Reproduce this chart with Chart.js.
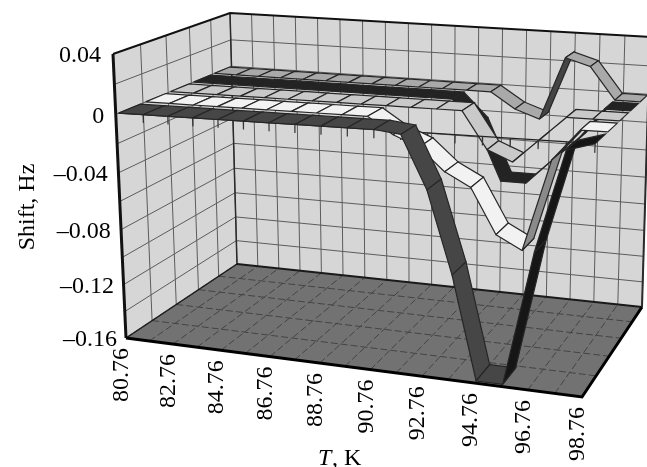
<!DOCTYPE html>
<html>
<head>
<meta charset="utf-8">
<style>
  html, body { margin: 0; padding: 0; background: #fff; }
  canvas { display: block; }
</style>
</head>
<body>
<canvas id="shiftChart" width="647" height="467"></canvas>
<script src="https://cdn.jsdelivr.net/npm/chart.js@4/dist/chart.umd.js"></script>
<script>
var temps = [80.76, 81.76, 82.76, 83.76, 84.76, 85.76, 86.76, 87.76, 88.76, 89.76,
             90.76, 91.76, 92.76, 93.76, 94.76, 95.76, 96.76, 97.76, 98.76];
var tempLabels = ["80.76", "82.76", "84.76", "86.76", "88.76", "90.76", "92.76", "94.76", "96.76", "98.76"];
var shiftTicks = [0.04, 0, -0.04, -0.08, -0.12, -0.16];
var shiftLabels = ["0.04", "0", "\u20130.04", "\u20130.08", "\u20130.12", "\u20130.16"];

// front to back
var ribbonA = [0, 0, 0, 0, 0, 0, 0, 0, 0, 0, 0, -0.002, -0.036, -0.09, -0.16, -0.16, -0.07, -0.005, 0];
var ribbonB = [0, 0, 0, 0, 0, 0, 0, 0, 0, 0, -0.011, -0.018, -0.033, -0.042, -0.072, -0.081, -0.02, 0, 0];
var ribbonC = [0, 0, 0, 0, 0, 0, 0, 0, 0, 0, 0, 0, 0, -0.025, -0.032, -0.016, 0, 0, 0];
var ribbonD = [0, 0, 0, 0, 0, 0, 0, 0, 0, 0, 0, 0, -0.017, -0.055, -0.055, -0.038, -0.022, 0, 0];
var ribbonE = [0, 0, 0, 0, 0, 0, 0, 0, 0, 0, 0, 0, 0, -0.011, -0.017, 0.027, 0.022, 0, 0];
var ribbons = [ribbonA, ribbonB, ribbonC, ribbonD, ribbonE];

var flatColors = ["#464646", "#f2f2f2", "#c9c9c9", "#232323", "#a9a9a9"];
var risingColors = ["#161616", "#8a8a8a", "#8a8a8a", "#111111", "#444444"];

// corners of the box on the page: [T end, depth end, shift end]
var box = {
  p000: [126, 338], p100: [582, 397], p010: [237, 264], p110: [642, 307],
  p001: [113, 54], p101: [597, 77], p011: [230, 13], p111: [650, 37]
};

function mix(a, b, f) { return a + (b - a) * f; }

function project(t, depth, shift) {
  var u = (t - 80.76) / 18, v = (shift + 0.16) / 0.2, w = depth, out = {};
  // rough perspective: cells get bigger toward the viewer
  u = u - 0.08 * u * (1 - u);
  v = v - 0.077 * v * (1 - v);
  w = w + 0.22 * w * (1 - w);
  [0, 1].forEach(function (i) {
    var front = mix(mix(box.p000[i], box.p100[i], u), mix(box.p001[i], box.p101[i], u), v);
    var back = mix(mix(box.p010[i], box.p110[i], u), mix(box.p011[i], box.p111[i], u), v);
    out[i == 0 ? "x" : "y"] = mix(front, back, w);
  });
  return out;
}

var layers = [];

function addLine(points, color, width, dash) {
  layers.push({
    data: points, showLine: true, pointRadius: 0, borderColor: color,
    borderWidth: width, borderDash: dash || [], fill: false
  });
}

function addShape(points, color, edge, width) {
  layers.push({
    data: points, showLine: true, pointRadius: 0, borderColor: edge, borderWidth: width,
    backgroundColor: color, fill: "shape"
  });
}

var T0 = temps[0], T1 = temps[temps.length - 1];

// walls and floor
addShape([project(T0, 0, -0.16), project(T0, 1, -0.16), project(T0, 1, 0.04), project(T0, 0, 0.04), project(T0, 0, -0.16)], "#d6d6d6", "#d6d6d6", 0);
addShape([project(T0, 1, -0.16), project(T1, 1, -0.16), project(T1, 1, 0.04), project(T0, 1, 0.04), project(T0, 1, -0.16)], "#d6d6d6", "#d6d6d6", 0);
addShape([project(T0, 0, -0.16), project(T1, 0, -0.16), project(T1, 1, -0.16), project(T0, 1, -0.16), project(T0, 0, -0.16)], "#727272", "#727272", 0);

// grid
temps.forEach(function (t) {
  addLine([project(t, 1, -0.16), project(t, 1, 0.04)], "#5c5c5c", 1);
  addLine([project(t, 0, -0.16), project(t, 1, -0.16)], "#444444", 1, [7, 3]);
});
[0.2, 0.4, 0.6, 0.8].forEach(function (d) {
  addLine([project(T0, d, -0.16), project(T0, d, 0.04)], "#5c5c5c", 1);
  addLine([project(T0, d, -0.16), project(T1, d, -0.16)], "#444444", 1, [7, 3]);
});
for (var g = 1; g < 10; g++) {
  var s = -0.16 + g * 0.02;
  addLine([project(T0, 0, s), project(T0, 1, s)], "#5c5c5c", 1);
  addLine([project(T0, 1, s), project(T1, 1, s)], "#5c5c5c", 1);
}

// box outline
addLine([project(T0, 1, -0.16), project(T0, 1, 0.04)], "#2a2a2a", 1.5);
addLine([project(T0, 1, -0.16), project(T1, 1, -0.16)], "#1a1a1a", 2);
addLine([project(T0, 0, -0.16), project(T0, 1, -0.16)], "#1a1a1a", 1.5);
addLine([project(T1, 1, -0.16), project(T1, 1, 0.04)], "#2a2a2a", 2);
addLine([project(T0, 0, 0.04), project(T0, 1, 0.04), project(T1, 1, 0.04)], "#111", 2);
addLine([project(T0, 0, -0.16), project(T0, 0, 0.04)], "#111", 3);
addLine([project(T0, 0, -0.16), project(T1, 0, -0.16), project(T1, 1, -0.16)], "#000", 3);

function addRibbon(r) {
  var values = ribbons[r];
  var near = (r + 0.5) / 5 - 0.08, far = (r + 0.5) / 5 + 0.08;
  temps.forEach(function (t, i) {
    if (i == temps.length - 1) return;
    var t2 = temps[i + 1], a = values[i], b = values[i + 1];
    var color = b - a > 0.004 ? risingColors[r] : flatColors[r];
    addShape([project(t, near, a), project(t2, near, b), project(t2, far, b), project(t, far, a), project(t, near, a)],
      color, "#262626", 1.2);
  });
}

addRibbon(4);
addRibbon(3);
addRibbon(2);

// zero axis with its ticks
addLine([project(T0, 0.02, 0), project(T1, 0.02, 0)], "#222", 1.2);
temps.slice(1).forEach(function (t) {
  addLine([project(t, 0.02, 0), project(t, 0.02, -0.0055)], "#333", 1.2);
});

addRibbon(1);
addRibbon(0);

var axisText = {
  id: "axisText",
  afterDraw: function (chart) {
    var ctx = chart.ctx;
    ctx.save();
    ctx.fillStyle = "#000";
    ctx.font = "24px 'Liberation Serif'";
    ctx.textBaseline = "middle";

    ctx.textAlign = "right";
    shiftTicks.forEach(function (s, i) {
      var p = project(T0, 0, s);
      ctx.fillText(shiftLabels[i], p.x - 12 + i * 0.6, p.y + 2);
    });

    tempLabels.forEach(function (label) {
      var p = project(parseFloat(label), 0, -0.16);
      ctx.save();
      ctx.translate(p.x - 4, p.y + 10);
      ctx.rotate(-Math.PI / 2);
      ctx.textAlign = "right";
      ctx.fillText(label, 0, 0);
      ctx.restore();
    });

    ctx.save();
    ctx.translate(28, 207);
    ctx.rotate(-Math.PI / 2);
    ctx.textAlign = "center";
    ctx.fillText("Shift, Hz", 0, 0);
    ctx.restore();

    ctx.textAlign = "left";
    ctx.textBaseline = "alphabetic";
    ctx.font = "italic 24px 'Liberation Serif'";
    ctx.fillText("T", 318, 465);
    ctx.font = "24px 'Liberation Serif'";
    ctx.fillText(", K", 332, 465);
    ctx.restore();
  }
};

var shiftChart = new Chart(document.getElementById("shiftChart"), {
  type: "scatter",
  data: { datasets: layers.reverse() },
  options: {
    responsive: false,
    animation: false,
    layout: { padding: 0 },
    scales: {
      x: { type: "linear", min: 0, max: 647, display: false },
      y: { type: "linear", min: 0, max: 467, reverse: true, display: false }
    },
    plugins: { legend: { display: false }, tooltip: { enabled: false } }
  },
  plugins: [axisText]
});
</script>
</body>
</html>
